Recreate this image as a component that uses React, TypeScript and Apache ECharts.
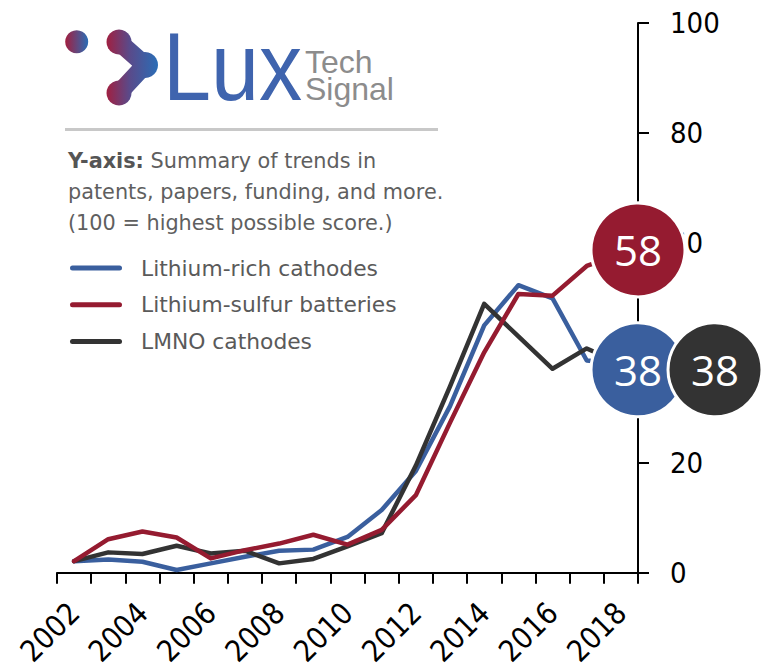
import React, { useEffect, useRef } from 'react';
import * as echarts from 'echarts';

const years = ['2002', '2003', '2004', '2005', '2006', '2007', '2008', '2009', '2010', '2011', '2012', '2013', '2014', '2015', '2016', '2017', '2018'];
const lithiumRich = [2.1, 2.4, 2.0, 0.5, 1.7, 2.9, 4.0, 4.2, 6.5, 11.4, 18.5, 30.3, 45.0, 52.3, 49.9, 38.6, 38];
const lithiumSulfur = [2.1, 6.1, 7.5, 6.4, 2.6, 4.1, 5.3, 6.9, 5.1, 7.8, 14.1, 27.3, 40.1, 50.7, 50.4, 55.8, 58];
const lmno = [2.1, 3.7, 3.4, 4.9, 3.5, 4.0, 1.7, 2.5, 4.8, 7.2, 19.5, 33.9, 48.9, 43.0, 37.1, 40.8, 38];
const seriesNames = ['Lithium-rich cathodes', 'Lithium-sulfur batteries', 'LMNO cathodes'];
const endValues = [38, 58, 38];
const yTicks = { min: 0, max: 100, interval: 20 };

const BLUE = '#3A5F9E';
const RED = '#951B30';
const DARK = '#333333';
const AXIS_FONT = "'DejaVu Sans Condensed', 'DejaVu Sans', sans-serif";
const TEXT_FONT = "'DejaVu Sans', sans-serif";
const BADGE_FONT = "'Open Sans', 'Noto Sans', sans-serif";
const LOGO_FONT = "'Liberation Sans', Arial, sans-serif";

export default function App() {
  const ref = useRef<HTMLDivElement>(null);
  useEffect(() => {
    if (!ref.current) return;
    const chart = echarts.init(ref.current, undefined, { renderer: 'svg' });
    const molGrad = new echarts.graphic.LinearGradient(106, 0, 158, 0, [
      { offset: 0, color: '#A21F3F' },
      { offset: 0.45, color: '#5A4A8A' },
      { offset: 1, color: '#2A6DB6' },
    ], true);
    const dotGrad = new echarts.graphic.LinearGradient(0, 0, 1, 0, [
      { offset: 0, color: '#A21F3F' },
      { offset: 1, color: '#2A6DB6' },
    ]);
    const badge = (name: string, value: number, color: string, offset: number[], z: number) => ({
      type: 'scatter',
      name,
      xAxisIndex: 1,
      data: [[1, value]],
      symbol: 'circle',
      symbolSize: 94,
      symbolOffset: offset,
      clip: false,
      z,
      silent: true,
      itemStyle: { color, borderColor: '#ffffff', borderWidth: 3, opacity: 1 },
      label: {
        show: true,
        position: 'inside',
        formatter: (p: any) => String(p.value[1]),
        color: '#ffffff',
        fontSize: 42,
        fontFamily: BADGE_FONT,
      },
      emphasis: { disabled: true },
    });
    const lineSeries = (name: string, data: number[], color: string, z: number) => ({
      type: 'line',
      name,
      data,
      showSymbol: false,
      symbol: 'none',
      z,
      lineStyle: { color, width: 4.5, cap: 'round', join: 'round' },
      itemStyle: { color },
      emphasis: { disabled: true },
    });
    chart.setOption({
      animation: false,
      backgroundColor: '#ffffff',
      grid: { left: 57, right: 135, top: 23, bottom: 94.5, containLabel: false },
      xAxis: [
        {
          type: 'category',
          data: years,
          boundaryGap: true,
          axisLine: { show: true, onZero: false, lineStyle: { color: '#000', width: 2 } },
          axisTick: { show: true, interval: 0, length: 11, lineStyle: { color: '#000', width: 2 } },
          axisLabel: { interval: 1, rotate: 45, fontSize: 30, color: '#000', fontFamily: AXIS_FONT, margin: 35 },
          splitLine: { show: false },
        },
        { type: 'value', min: 0, max: 1, show: false },
      ],
      yAxis: {
        type: 'value',
        position: 'right',
        min: yTicks.min,
        max: yTicks.max,
        interval: yTicks.interval,
        axisLine: { show: true, onZero: false, lineStyle: { color: '#000', width: 2 } },
        axisTick: { show: true, length: 11, lineStyle: { color: '#000', width: 2 } },
        axisLabel: { fontSize: 29, color: '#000', fontFamily: AXIS_FONT, margin: 32 },
        splitLine: { show: false },
      },
      legend: {
        data: seriesNames,
        orient: 'vertical',
        left: 70,
        top: 256,
        padding: 0,
        itemWidth: 52,
        itemHeight: 5,
        itemGap: 12.7,
        selectedMode: false,
        icon: 'path://M2.5,0 H49.5 A2.5,2.5 0 0 1 49.5,5 H2.5 A2.5,2.5 0 0 1 2.5,0 Z',
        textStyle: { fontSize: 21.8, color: '#5A5A5A', fontFamily: TEXT_FONT, lineHeight: 24, padding: [0, 0, 0, 14] },
      },
      series: [
        lineSeries(seriesNames[0], lithiumRich, BLUE, 2),
        lineSeries(seriesNames[2], lmno, DARK, 3),
        lineSeries(seriesNames[1], lithiumSulfur, RED, 4),
        badge('end-sulfur', endValues[1], RED, [0, -4], 10),
        badge('end-rich', endValues[0], BLUE, [0, 6], 11),
        badge('end-lmno', endValues[2], DARK, [77, 6], 12),
      ],
      graphic: [
        { type: 'circle', shape: { cx: 76.7, cy: 41.7, r: 11.5 }, style: { fill: dotGrad } },
        {
          type: 'polyline',
          shape: { points: [[119, 42], [145, 65], [119, 93]] },
          style: { stroke: molGrad, lineWidth: 18, fill: 'none', lineJoin: 'round' },
        },
        { type: 'circle', shape: { cx: 119, cy: 42, r: 12.5 }, style: { fill: molGrad } },
        { type: 'circle', shape: { cx: 145, cy: 65, r: 13 }, style: { fill: molGrad } },
        { type: 'circle', shape: { cx: 119, cy: 93, r: 12.5 }, style: { fill: molGrad } },
        {
          type: 'text',
          x: 163,
          y: 66,
          scaleX: 0.89,
          style: { x: 0, y: 0, text: 'Lux', fill: '#3F64AE', font: `97px ${LOGO_FONT}`, textAlign: 'left', textVerticalAlign: 'middle' },
        },
        {
          type: 'text',
          style: { x: 305, y: 62, text: 'Tech', fill: '#8C8C8C', font: `32px ${LOGO_FONT}`, textAlign: 'left', textVerticalAlign: 'middle' },
        },
        {
          type: 'text',
          style: { x: 305, y: 89, text: 'Signal', fill: '#8C8C8C', font: `32px ${LOGO_FONT}`, textAlign: 'left', textVerticalAlign: 'middle' },
        },
        {
          type: 'line',
          shape: { x1: 65, y1: 129.5, x2: 438, y2: 129.5 },
          style: { stroke: '#C8C8C8', lineWidth: 3 },
        },
        {
          type: 'text',
          style: {
            x: 68,
            y: 146,
            text: '{b|Y-axis:} Summary of trends in\npatents, papers, funding, and more.\n(100 = highest possible score.)',
            fill: '#5F5F5F',
            fontSize: 20.8,
            fontFamily: TEXT_FONT,
            lineHeight: 30.7,
            textAlign: 'left',
            textVerticalAlign: 'top',
            rich: {
              b: { fontWeight: 'bold', fontSize: 20.8, fontFamily: TEXT_FONT, fill: '#555555', lineHeight: 30.7 },
            },
          },
        },
      ],
    });
    return () => chart.dispose();
  }, []);
  return <div ref={ref} style={{ position: 'absolute', left: 0, top: 0, width: 773, height: 669 }} />;
}
